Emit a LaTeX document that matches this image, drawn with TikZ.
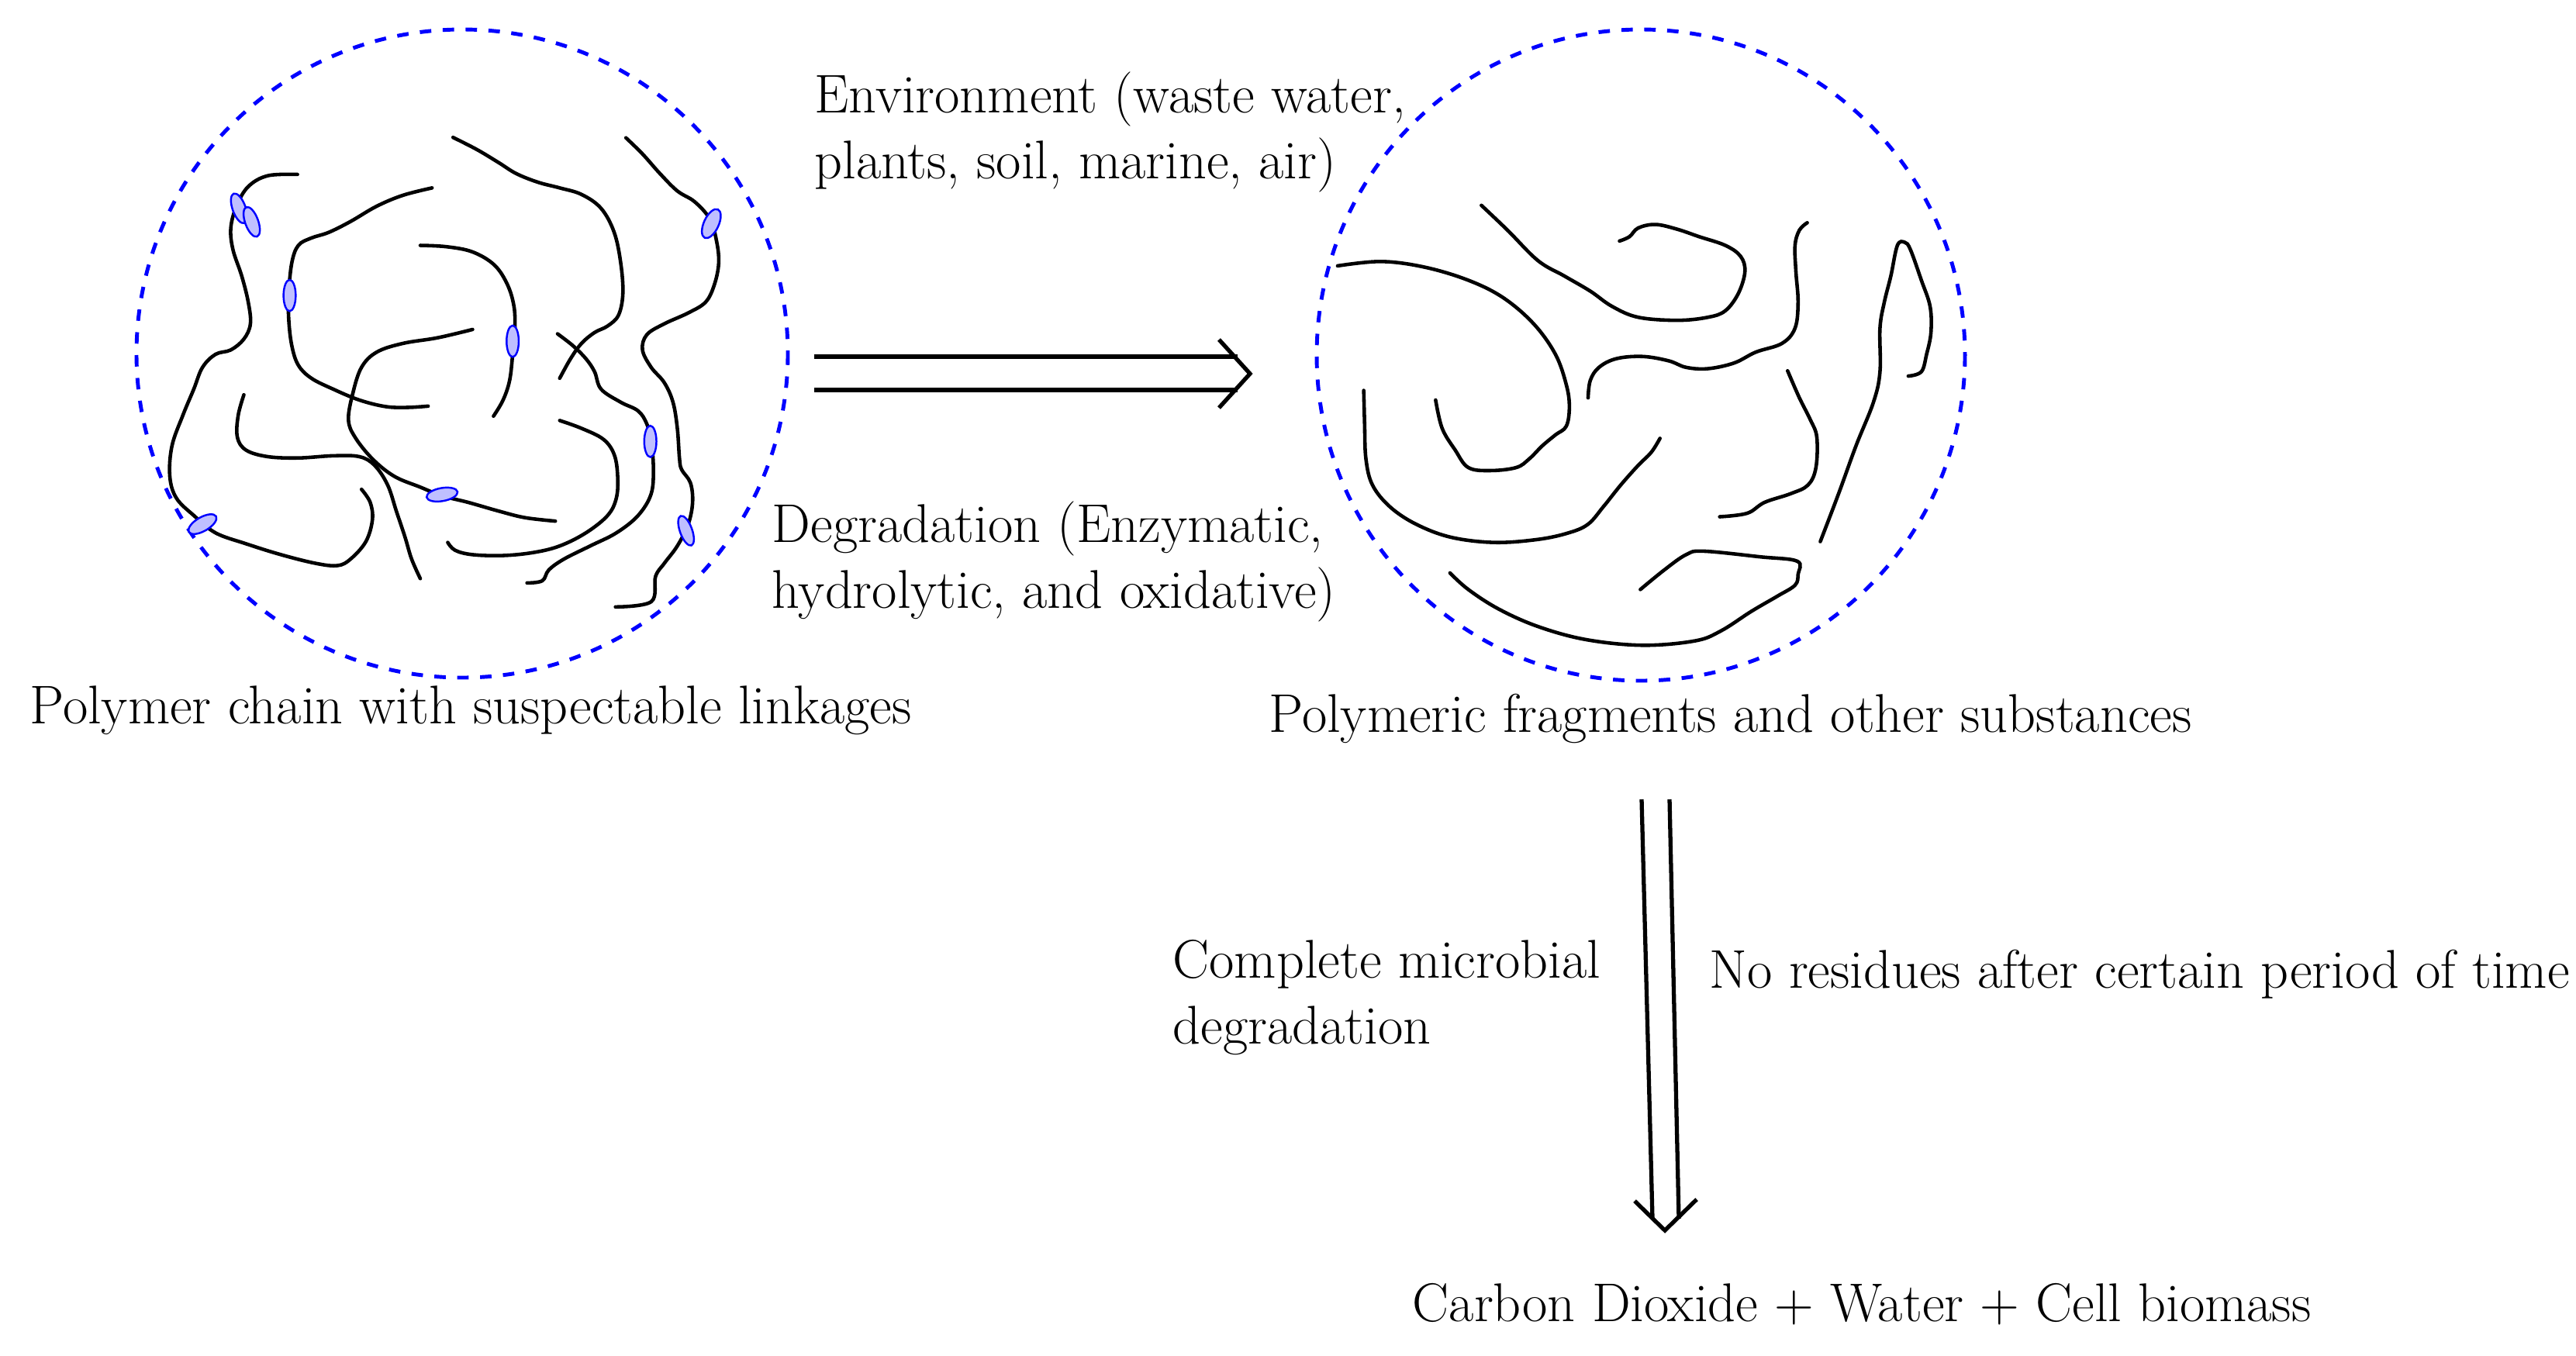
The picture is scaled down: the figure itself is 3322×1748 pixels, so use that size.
\documentclass[tikz,border=0pt]{standalone}
\usetikzlibrary{arrows.meta}
\begin{document}
\begin{tikzpicture}[x=0.01cm,y=-0.01cm,
  chain/.style={line width=1.3pt,line cap=round,smooth,tension=0.6},
  ring/.style={draw=blue,line width=1.4pt,dash pattern=on 4.2pt off 4.2pt},
  link/.style={draw=blue,fill=blue!25,line width=0.7pt},
  dbl/.style={line width=1.5pt},
  lbl/.style={anchor=base west,inner sep=0pt,font=\fontsize{20}{24}\selectfont}]
\path[fill=white] (0,0) rectangle (3322,1748);
\useasboundingbox (0,0) rectangle (3322,1748);
% circles
\path[ring] (596,456) ellipse [x radius=420, y radius=418];
\path[ring] (2116,458) ellipse [x radius=418, y radius=420];
% left chains
\begin{scope}[shift={(160,30)},scale=0.5618]
\draw[chain] plot coordinates {(398,347) (330,350) (285,375) (258,420) (245,470) (250,520) (270,580) (285,640) (290,690) (275,725) (245,750) (210,760) (180,790) (160,840) (135,900) (110,970) (105,1040) (120,1090) (160,1130) (210,1170) (280,1195) (360,1220) (440,1240) (490,1245) (520,1230) (555,1190) (570,1140) (565,1100) (545,1070)};
\draw[chain] plot coordinates {(707,378) (640,395) (580,420) (520,455) (470,480) (430,493) (400,510) (385,550) (378,620) (378,680) (385,740) (400,785) (430,815) (480,840) (540,865) (600,880) (650,882) (698,879)};
\draw[chain] plot coordinates {(680,510) (740,513) (800,525) (850,555) (880,600) (895,650) (897,700) (892,760) (885,820) (870,865) (848,902)};
\draw[chain] plot coordinates {(755,262) (810,290) (860,320) (900,345) (950,365) (1000,378) (1050,393) (1095,425) (1125,480) (1140,550) (1145,620) (1135,670) (1110,695) (1080,710) (1050,735) (1025,770) (1000,815)};
\draw[chain] plot coordinates {(995,713) (1030,740) (1060,770) (1080,800) (1095,840) (1140,870) (1180,890) (1200,920) (1210,960) (1215,1020) (1210,1080) (1180,1130) (1130,1170) (1070,1200) (1010,1230) (975,1255) (960,1280) (925,1285)};
\draw[chain] plot coordinates {(800,703) (720,722) (640,735) (580,755) (545,790) (525,850) (515,910) (530,950) (570,1000) (620,1040) (680,1065) (730,1085) (790,1100) (860,1120) (920,1135) (990,1143)};
\draw[chain] plot coordinates {(275,853) (262,900) (260,950) (280,980) (330,995) (400,998) (480,993) (540,995) (575,1015) (605,1060) (625,1120) (645,1180) (660,1230) (680,1275)};
\draw[chain] plot coordinates {(1000,912) (1050,930) (1100,955) (1125,990) (1133,1040) (1130,1090) (1110,1130) (1060,1170) (1000,1200) (940,1215) (870,1222) (800,1220) (760,1210) (743,1192)};
\draw[chain] plot coordinates {(1152,263) (1190,300) (1230,345) (1270,385) (1310,410) (1345,450) (1360,500) (1365,550) (1355,600) (1335,640) (1295,665) (1240,690) (1200,715) (1190,750) (1210,790) (1240,825) (1260,870) (1270,930) (1275,1000) (1280,1025) (1300,1055) (1305,1100) (1295,1150) (1270,1200) (1240,1240) (1220,1270) (1210,1328) (1128,1340)};
% linkages
\path[link] (264,425) ellipse [x radius=15, y radius=36, rotate=20];
\path[link] (293,456) ellipse [x radius=15, y radius=36, rotate=20];
\path[link] (380,625) ellipse [x radius=14, y radius=36];
\path[link] (892,730) ellipse [x radius=14, y radius=36];
\path[link] (1348,460) ellipse [x radius=17, y radius=36, rotate=-25];
\path[link] (1208,960) ellipse [x radius=14, y radius=36];
\path[link] (1290,1165) ellipse [x radius=14, y radius=36, rotate=20];
\path[link] (730,1082) ellipse [x radius=36, y radius=15, rotate=10];
\path[link] (180,1150) ellipse [x radius=36, y radius=16, rotate=30];
\end{scope}
% right chains
\begin{scope}[shift={(1680,30)},scale=0.5618]
\draw[chain] plot coordinates {(80,557) (180,547) (280,560) (380,590) (460,630) (530,690) (580,760) (605,830) (612,880) (605,925) (580,945) (550,970) (520,1000) (490,1020) (430,1027) (380,1020) (350,980) (320,930) (305,865)};
\draw[chain] plot coordinates {(140,843) (142,920) (145,1000) (160,1060) (200,1110) (260,1150) (340,1180) (440,1192) (540,1185) (610,1170) (655,1150) (690,1110) (730,1060) (770,1015) (800,985) (820,953)};
\draw[chain] plot coordinates {(410,418) (470,475) (540,545) (600,580) (660,615) (710,650) (770,675) (860,682) (930,675) (970,660) (1000,620) (1015,570) (1005,535) (970,510) (910,490) (860,473) (810,462) (770,470) (750,490) (727,500)};
\draw[chain] plot coordinates {(655,860) (660,820) (680,790) (720,770) (780,765) (840,775) (880,790) (930,793) (990,780) (1040,755) (1100,735) (1130,700) (1137,640) (1132,570) (1130,510) (1140,475) (1158,458)};
\draw[chain] plot coordinates {(1113,798) (1140,860) (1165,910) (1180,950) (1178,1020) (1160,1060) (1120,1080) (1060,1100) (1020,1125) (957,1133)};
\draw[chain] plot coordinates {(1188,1190) (1230,1080) (1270,970) (1310,870) (1325,800) (1325,700) (1335,640) (1350,580) (1365,510) (1382,503) (1395,520) (1420,590) (1440,650) (1442,710) (1432,760) (1420,800) (1390,810)};
\draw[chain] plot coordinates {(338,1262) (380,1300) (450,1345) (540,1385) (650,1415) (780,1428) (900,1418) (960,1395) (1030,1350) (1090,1315) (1130,1290) (1137,1265) (1135,1235) (1050,1225) (920,1212) (880,1220) (830,1255) (775,1300)};
\end{scope}
% horizontal double arrow
\coordinate (h1s) at (1050,460); \coordinate (h1e) at (1596,460);
\coordinate (h2s) at (1050,503); \coordinate (h2e) at (1596,503);
\coordinate (htip) at (1612,482);
\coordinate (ha) at (1572,438); \coordinate (hb) at (1572,526);
\draw[dbl] (h1s) -- (h1e); \draw[dbl] (h2s) -- (h2e);
\draw[dbl,line join=miter] (ha) -- (htip) -- (hb);
% vertical double arrow
\coordinate (v1s) at (2117,1031); \coordinate (v1e) at (2131,1572);
\coordinate (v2s) at (2153,1031); \coordinate (v2e) at (2165,1572);
\coordinate (vtip) at (2147,1587);
\coordinate (va) at (2108,1549); \coordinate (vb) at (2188,1547);
\draw[dbl] (v1s) -- (v1e); \draw[dbl] (v2s) -- (v2e);
\draw[dbl,line join=miter] (va) -- (vtip) -- (vb);
% labels
\node[lbl] (t1) at (1050,145) {Environment (waste water,};
\node[lbl] (t2) at (1050,230) {plants, soil, marine, air)};
\node[lbl] (t3) at (995,699) {Degradation (Enzymatic,};
\node[lbl] (t4) at (995,784) {hydrolytic, and oxidative)};
\node[lbl] (t5) at (38,933) {Polymer chain with suspectable linkages};
\node[lbl] (t6) at (1636,944) {Polymeric fragments and other substances};
\node[lbl] (t7) at (1512,1261) {Complete microbial};
\node[lbl] (t8) at (1512,1346) {degradation};
\node[lbl] (t9) at (2204,1274) {No residues after certain period of time};
\node[lbl] (t10) at (1821,1704) {Carbon Dioxide + Water + Cell biomass};
\end{tikzpicture}
\end{document}
